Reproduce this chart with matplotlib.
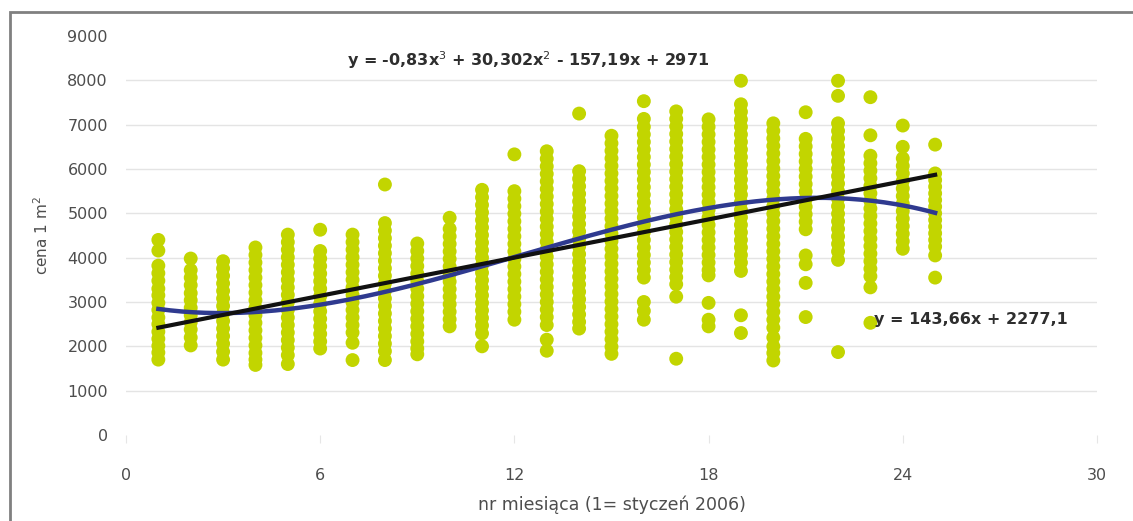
import numpy as np
import matplotlib
matplotlib.use("Agg")
import matplotlib.pyplot as plt
from matplotlib.patches import Rectangle

plt.rcParams["font.family"] = ["DejaVu Sans"]

# ----------------------------
# data
# ----------------------------
months = list(range(1, 26))

# prices per 1 m2, one list per month (1 = styczeń 2006)
prices = [
    [4400, 4160, 3820, 3650, 3480, 3300, 3150, 2980, 2820, 2650, 2500, 2330, 2170, 2010, 1860, 1700],
    [3980, 3720, 3550, 3380, 3200, 3040, 2870, 2700, 2540, 2380, 2200, 2020],
    [3920, 3760, 3590, 3420, 3250, 3080, 2910, 2740, 2570, 2400, 2230, 2060, 1880, 1700],
    [4230, 4060, 3890, 3720, 3550, 3380, 3210, 3040, 2870, 2700, 2530, 2360, 2190, 2020, 1850, 1700, 1580],
    [4520, 4350, 4180, 4010, 3840, 3670, 3500, 3330, 3160, 2990, 2820, 2650, 2480, 2310, 2140, 1970, 1800, 1600],
    [4630, 4150, 3980, 3810, 3640, 3470, 3300, 3130, 2960, 2790, 2620, 2450, 2280, 2110, 1950],
    [4520, 4350, 4180, 4010, 3840, 3670, 3500, 3330, 3160, 2990, 2820, 2650, 2480, 2310, 2080, 1690],
    [5650, 4780, 4610, 4440, 4270, 4100, 3930, 3760, 3590, 3420, 3250, 3080, 2910, 2740, 2570, 2400, 2230, 2060, 1890, 1690],
    [4320, 4150, 3980, 3810, 3640, 3470, 3300, 3130, 2960, 2790, 2620, 2450, 2280, 2110, 1950, 1820],
    [4900, 4650, 4480, 4310, 4140, 3970, 3800, 3630, 3460, 3290, 3120, 2950, 2780, 2610, 2450],
    [5530, 5360, 5190, 5020, 4850, 4680, 4510, 4340, 4170, 4000, 3830, 3660, 3490, 3320, 3150, 2980, 2810, 2640, 2470, 2290, 2000],
    [6330, 5500, 5330, 5160, 4990, 4820, 4650, 4480, 4310, 4140, 3970, 3800, 3630, 3460, 3290, 3120, 2950, 2780, 2600],
    [6400, 6230, 6060, 5890, 5720, 5550, 5380, 5210, 5040, 4870, 4700, 4530, 4360, 4190, 4020, 3850, 3680, 3510, 3340, 3170, 3000, 2830, 2660, 2480, 2150, 1900],
    [7250, 5950, 5780, 5610, 5440, 5270, 5100, 4930, 4760, 4590, 4420, 4250, 4080, 3910, 3740, 3570, 3400, 3230, 3060, 2890, 2720, 2550, 2400],
    [6750, 6580, 6410, 6240, 6070, 5900, 5730, 5560, 5390, 5220, 5050, 4880, 4710, 4540, 4370, 4200, 4030, 3860, 3690, 3520, 3350, 3180, 3010, 2840, 2670, 2500, 2330, 2160, 1990, 1830],
    [7530, 7130, 6950, 6780, 6610, 6440, 6270, 6100, 5930, 5760, 5590, 5420, 5250, 5080, 4910, 4740, 4570, 4400, 4230, 4060, 3890, 3720, 3550, 3000, 2800, 2600],
    [7300, 7130, 6960, 6790, 6620, 6450, 6280, 6110, 5940, 5770, 5600, 5430, 5260, 5090, 4920, 4750, 4580, 4410, 4240, 4070, 3900, 3730, 3560, 3400, 3120, 1720],
    [7120, 6950, 6780, 6610, 6440, 6270, 6100, 5930, 5760, 5590, 5420, 5250, 5080, 4910, 4740, 4570, 4400, 4230, 4060, 3890, 3720, 3600, 2980, 2600, 2450],
    [7990, 7460, 7290, 7120, 6950, 6780, 6610, 6440, 6270, 6100, 5930, 5760, 5590, 5420, 5250, 5080, 4910, 4740, 4570, 4400, 4230, 4060, 3890, 3700, 2700, 2300],
    [7030, 6860, 6690, 6520, 6350, 6180, 6010, 5840, 5670, 5500, 5330, 5160, 4990, 4820, 4650, 4480, 4310, 4140, 3970, 3800, 3630, 3460, 3290, 3120, 2950, 2780, 2600, 2420, 2200, 2000, 1850, 1680],
    [7280, 6680, 6510, 6340, 6170, 6000, 5830, 5660, 5490, 5320, 5150, 4980, 4810, 4640, 4050, 3850, 3430, 2660],
    [7990, 7650, 7030, 6860, 6690, 6520, 6350, 6180, 6010, 5840, 5670, 5500, 5330, 5160, 4990, 4820, 4650, 4480, 4310, 4140, 3950, 1870],
    [7620, 6760, 6300, 6130, 5960, 5790, 5620, 5450, 5280, 5110, 4940, 4770, 4600, 4430, 4260, 4090, 3920, 3750, 3580, 3330, 2530],
    [6980, 6500, 6240, 6070, 5900, 5730, 5560, 5390, 5220, 5050, 4880, 4710, 4540, 4370, 4200],
    [6550, 5900, 5750, 5600, 5450, 5300, 5150, 5000, 4850, 4700, 4550, 4400, 4250, 4050, 3550],
]

# trend lines as printed on the chart
lin_coef = [143.66, 2277.1]
poly_coef = [-0.83, 30.302, -157.19, 2971]
lin_label = "y = 143,66x + 2277,1"
poly_label = "y = -0,83x$^3$ + 30,302x$^2$ - 157,19x + 2971"

x_ticks = [0, 6, 12, 18, 24, 30]
y_ticks = [0, 1000, 2000, 3000, 4000, 5000, 6000, 7000, 8000, 9000]

# ----------------------------
# plot
# ----------------------------
fig = plt.figure(figsize=(11.33, 5.21), dpi=100)
ax = fig.add_axes([0.1112, 0.1651, 0.857, 0.7658])

xs = np.concatenate([[m] * len(p) for m, p in zip(months, prices)])
ys = np.concatenate(prices)
ax.scatter(xs, ys, s=100, color="#c2d500", edgecolors="none", zorder=2)

xt = np.linspace(months[0], months[-1], 200)
ax.plot(xt, np.polyval(poly_coef, xt), color="#2f3a8f", lw=3.2, zorder=3)
ax.plot(xt, np.polyval(lin_coef, xt), color="#111111", lw=3.0, zorder=4)

ax.text(6.83, 8460, poly_label, fontsize=11.5, fontweight="bold",
        color="#2e2e2e", va="center", ha="left", zorder=5)
ax.text(23.1, 2600, lin_label, fontsize=11.5, fontweight="bold",
        color="#2e2e2e", va="center", ha="left", zorder=5)

ax.set_xlim(0, 30)
ax.set_ylim(0, 9000)
ax.set_xticks(x_ticks)
ax.set_yticks(y_ticks)
ax.tick_params(axis="y", length=0, pad=13, labelsize=11.5, labelcolor="#4d4d4d")
ax.tick_params(axis="x", length=6, color="#e6e6e6", pad=18, labelsize=11.5,
               labelcolor="#4d4d4d")

ax.grid(axis="y", color="#e4e4e4", lw=1)
ygrid = ax.get_ygridlines()
ygrid[0].set_visible(False)
ygrid[-1].set_visible(False)
for s in ax.spines.values():
    s.set_visible(False)

ax.set_xlabel("nr miesiąca (1= styczeń 2006)", fontsize=12.5, color="#4d4d4d", labelpad=9)
ax.set_ylabel("cena 1 m$^2$", fontsize=11, color="#4d4d4d", labelpad=12)

# frame around the whole picture (top and left visible)
fig.add_artist(Rectangle((10 / 1133, -0.1), 1.2, 1.1 - 12 / 521,
                         transform=fig.transFigure, fill=False,
                         ec="#808080", lw=2))

fig.savefig("out.png", dpi=100, facecolor="white")
